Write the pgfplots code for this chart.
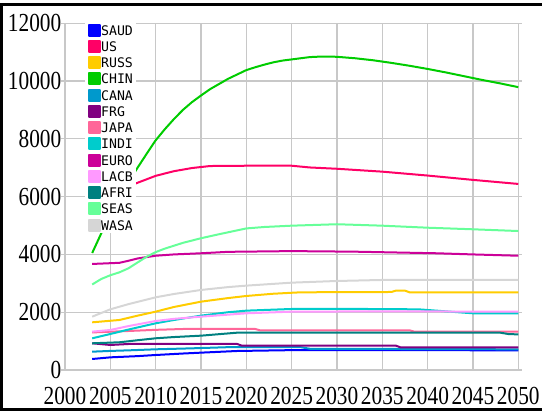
\documentclass[border=0pt]{standalone}
\usepackage{fontspec}
\usepackage{pgfplots}
\pgfplotsset{compat=1.18}

\newfontfamily\tickfontfam[FakeStretch=0.82]{Liberation Serif}
\newfontfamily\legendfontfam{DejaVu Sans Mono}
\newcommand\tickfont{\tickfontfam\fontsize{26}{26}\selectfont}
\newcommand\legendfont{\legendfontfam\fontsize{13.2}{13.2}\selectfont}

\definecolor{cSAUD}{HTML}{0000FF}
\definecolor{cUS}{HTML}{FF0066}
\definecolor{cRUSS}{HTML}{FFCC00}
\definecolor{cCHIN}{HTML}{00CC00}
\definecolor{cCANA}{HTML}{0099CC}
\definecolor{cFRG}{HTML}{800080}
\definecolor{cJAPA}{HTML}{FF6699}
\definecolor{cINDI}{HTML}{00CCCC}
\definecolor{cEURO}{HTML}{CC0099}
\definecolor{cLACB}{HTML}{FF99FF}
\definecolor{cAFRI}{HTML}{008080}
\definecolor{cSEAS}{HTML}{66FF99}
\definecolor{cWASA}{HTML}{D6D6D6}
\definecolor{gridgray}{HTML}{C8C8C8}

\begin{document}
\begin{tikzpicture}[x=1pt,y=1pt]
\useasboundingbox (0,0) rectangle (542,415);
% outer frame
\draw[line width=3pt] (546,410) -- (1.5,410) -- (1.5,5) -- (546,5);

\begin{axis}[
  at={(65pt,45pt)}, anchor=south west,
  scale only axis, width=453.3pt, height=346.7pt,
  xmin=2000, xmax=2050, ymin=0, ymax=12000,
  xtick={2000,2005,...,2050},
  ytick={0,2000,...,12000},
  scaled ticks=false,
  /pgf/number format/.cd, 1000 sep={}, fixed, assume math mode=true, /pgfplots/.cd,
  ticklabel style={font=\tickfont, inner sep=0pt},
  xticklabel style={yshift=-13.8pt},
  tick align=outside, major tick length=3.5pt,
  xtick style={draw=none},
  ytick style={draw=gridgray, line width=1.2pt},
  grid=major,
  major grid style={draw=gridgray, line width=1.2pt},
  axis line style={draw=gridgray, line width=1.2pt},
  every axis plot/.append style={line width=2pt, mark=none, line join=round},
  legend image code/.code={\fill[#1] (0pt,-5.5pt) rectangle (11pt,5.5pt);},
  legend cell align=left,
  legend style={
    at={(rel axis cs:0.044,1.004)}, anchor=north west,
    draw=none, fill=white, inner xsep=3pt, inner ysep=0pt,
    font=\legendfont, row sep=0pt,
    nodes={inner sep=0pt, minimum height=16.25pt, text depth=0pt},
    /tikz/every even column/.append style={column sep=3pt},
  },
]
\addplot[color=cSAUD] coordinates {
 (2003,381) (2005,438) (2008,480) (2010,519) (2013,570) (2015,600)
 (2019,658) (2026,692) (2050,681)};
\addlegendentry{SAUD}
\addplot[color=cUS] coordinates {
 (2003,5750) (2005,6050) (2007,6350) (2008,6480) (2010,6720) (2012,6880)
 (2014,6990) (2016,7060) (2020,7070) (2025,7070) (2027,7010) (2030,6965)
 (2035,6865) (2040,6730) (2045,6580) (2050,6440)};
\addlegendentry{US}
\addplot[color=cRUSS] coordinates {
 (2003,1650) (2006,1731) (2008,1880) (2010,2019) (2012,2180) (2015,2365)
 (2018,2490) (2020,2562) (2023,2640) (2026,2689) (2036,2700) (2036.5,2747)
 (2037.5,2747) (2038,2689) (2050,2689)};
\addlegendentry{RUSS}
\addplot[color=cCHIN] coordinates {
 (2003,4050) (2004,4730) (2005,5380) (2006,5970) (2007,6500) (2008,7000)
 (2009,7480) (2010,7950) (2011,8330) (2012,8680) (2013,9000) (2014,9270)
 (2015,9500) (2016,9720) (2017,9900) (2018,10080) (2019,10230) (2020,10380)
 (2021,10480) (2022,10570) (2023,10650) (2024,10710) (2025,10750) (2026,10790)
 (2027,10830) (2028,10845) (2029,10850) (2030,10840) (2032,10790) (2034,10720)
 (2036,10630) (2038,10530) (2040,10420) (2042,10300) (2044,10170) (2046,10040)
 (2048,9920) (2050,9790)};
\addlegendentry{CHIN}
\addplot[color=cCANA] coordinates {
 (2003,634) (2005,660) (2007,680) (2010,716) (2014,750) (2018,790)
 (2026,790) (2027,735) (2050,716)};
\addlegendentry{CANA}
\addplot[color=cFRG] coordinates {
 (2003,924) (2005,866) (2007,900) (2019,900) (2019.5,842) (2036.5,842)
 (2037,785) (2050,785)};
\addlegendentry{FRG}
\addplot[color=cJAPA] coordinates {
 (2003,1300) (2007,1350) (2010,1390) (2013,1419) (2021,1419) (2021.5,1373)
 (2038,1373) (2038.5,1330) (2050,1330)};
\addlegendentry{JAPA}
\addplot[color=cINDI] coordinates {
 (2003,1097) (2005,1246) (2007,1400) (2010,1616) (2012,1730) (2015,1881)
 (2018,2000) (2020,2054) (2025,2112) (2033,2112) (2039,2100) (2042,2030)
 (2045,1962) (2050,1962)};
\addlegendentry{INDI}
\addplot[color=cEURO] coordinates {
 (2003,3670) (2006,3710) (2007,3780) (2008,3860) (2010,3955) (2012,4000)
 (2015,4040) (2018,4090) (2025,4115) (2032,4095) (2041,4040) (2045,4000)
 (2050,3955)};
\addlegendentry{EURO}
\addplot[color=cLACB] coordinates {
 (2003,1327) (2005,1385) (2007,1520) (2010,1696) (2012,1770) (2015,1846)
 (2020,1962) (2025,2019) (2035,2030) (2050,2019)};
\addlegendentry{LACB}
\addplot[color=cAFRI] coordinates {
 (2003,924) (2006,959) (2008,1030) (2010,1097) (2012,1140) (2015,1188)
 (2017,1240) (2019,1292) (2048,1292) (2049,1240) (2050,1235)};
\addlegendentry{AFRI}
\addplot[color=cSEAS] coordinates {
 (2003,2960) (2004,3150) (2005,3280) (2006,3380) (2007,3520) (2008,3720)
 (2009,3920) (2010,4080) (2011,4200) (2012,4300) (2013,4400) (2015,4560)
 (2017,4700) (2020,4900) (2022,4950) (2025,4995) (2030,5045) (2035,4995)
 (2040,4925) (2045,4870) (2050,4810)};
\addlegendentry{SEAS}
\addplot[color=cWASA] coordinates {
 (2003,1846) (2005,2100) (2007,2280) (2010,2516) (2012,2630) (2015,2770)
 (2018,2870) (2020,2920) (2025,3023) (2030,3081) (2035,3116) (2050,3116)};
\addlegendentry{WASA}
\end{axis}
\end{tikzpicture}
\end{document}
